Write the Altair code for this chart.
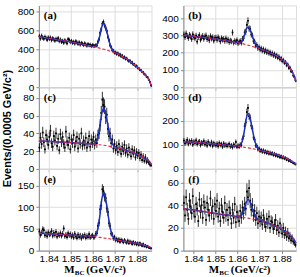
import altair as alt
import numpy as np
import pandas as pd

# M_BC histogram: 102 bins of 0.0005 GeV/c^2 starting at 1.8355
BIN_START = 1.8355
BIN_WIDTH = 0.0005
X_MIN, X_MAX = 1.8355, 1.8865
X_TICKS = [1.84, 1.85, 1.86, 1.87, 1.88]

counts_a = [535, 512, 541, 520, 509, 530, 518, 497, 523, 508,
            521, 495, 514, 503, 489, 508, 497, 516, 484, 501,
            476, 488, 467, 493, 480, 461, 505, 498, 474, 486,
            466, 478, 459, 483, 470, 455, 472, 448, 465, 457,
            443, 461, 448, 436, 454, 440, 447, 431, 442, 437,
            432, 441, 438, 479, 503, 571, 608, 668, 686, 650,
            619, 590, 528, 494, 441, 421, 388, 384, 362, 366,
            348, 357, 336, 345, 324, 333, 310, 318, 297, 303,
            284, 273, 279, 257, 262, 239, 241, 220, 225, 201,
            199, 181, 178, 160, 157, 136, 131, 110, 104, 79,
            55, 22]
counts_b = [306, 291, 312, 297, 286, 303, 295, 280, 307, 292,
            284, 299, 265, 291, 302, 276, 288, 297, 281, 294,
            300, 279, 287, 272, 296, 283, 290, 270, 285, 288,
            275, 290, 279, 266, 284, 276, 280, 268, 283, 270,
            276, 262, 271, 266, 318, 259, 268, 262, 273, 255,
            262, 268, 258, 281, 284, 318, 322, 362, 386, 341,
            338, 306, 300, 268, 266, 241, 246, 226, 233, 218,
            226, 211, 221, 206, 215, 201, 209, 196, 204, 190,
            199, 184, 193, 177, 186, 170, 178, 161, 169, 151,
            158, 141, 146, 127, 132, 111, 114, 92, 90, 68,
            58, 40]
counts_c = [24, 35, 28, 41, 30, 22, 38, 33, 27, 36,
            43, 29, 25, 37, 32, 40, 26, 34, 21, 39,
            30, 36, 28, 24, 42, 31, 27, 35, 22, 33,
            29, 38, 25, 31, 36, 23, 34, 28, 40, 26,
            32, 27, 35, 24, 30, 37, 25, 33, 29, 36,
            27, 33, 29, 38, 40, 49, 63, 78, 72, 70,
            58, 61, 45, 37, 40, 29, 33, 23, 28, 21,
            26, 19, 28, 22, 17, 25, 20, 27, 18, 23,
            16, 24, 19, 14, 22, 17, 21, 13, 19, 15,
            18, 12, 16, 10, 14, 9, 13, 8, 10, 7,
            5, 4]
counts_d = [118, 106, 112, 121, 104, 115, 109, 117, 101, 113,
            108, 119, 103, 111, 114, 99, 110, 106, 116, 102,
            109, 97, 113, 104, 100, 111, 95, 107, 102, 98,
            105, 94, 108, 99, 103, 92, 106, 97, 101, 95,
            99, 104, 93, 98, 90, 101, 96, 112, 92, 97,
            92, 101, 99, 124, 136, 178, 193, 236, 254, 219,
            212, 180, 168, 131, 122, 97, 96, 81, 85, 75,
            79, 71, 77, 69, 73, 66, 71, 63, 68, 62,
            66, 58, 63, 55, 59, 52, 56, 48, 53, 46,
            50, 43, 46, 38, 41, 33, 36, 30, 29, 24,
            23, 19]
counts_e = [44, 36, 41, 49, 47, 35, 40, 33, 42, 37,
            39, 45, 34, 41, 36, 43, 32, 38, 35, 40,
            34, 39, 51, 33, 37, 31, 40, 35, 38, 32,
            36, 30, 39, 33, 29, 37, 31, 35, 28, 34,
            32, 36, 29, 34, 31, 38, 30, 33, 35, 31,
            31, 39, 40, 57, 64, 95, 104, 141, 137, 124,
            121, 97, 89, 63, 57, 39, 37, 28, 31, 24,
            27, 22, 26, 20, 25, 23, 19, 24, 21, 18,
            23, 17, 21, 19, 15, 20, 16, 18, 14, 17,
            13, 17, 14, 11, 15, 10, 12, 8, 10, 7,
            6, 5]
counts_f = [42, 31, 47, 36, 28, 44, 39, 33, 48, 35,
            30, 41, 37, 26, 45, 34, 40, 29, 43, 38,
            27, 42, 36, 31, 46, 33, 39, 28, 41, 35,
            44, 30, 37, 26, 40, 34, 29, 42, 31, 36,
            27, 38, 33, 24, 36, 29, 41, 25, 34, 30,
            26, 35, 29, 38, 33, 41, 37, 52, 47, 55,
            44, 36, 40, 31, 35, 27, 33, 24, 30, 26,
            29, 23, 31, 25, 21, 28, 24, 30, 20, 26,
            25, 19, 23, 27, 18, 22, 16, 24, 19, 15,
            20, 14, 17, 12, 16, 11, 13, 9, 11, 8,
            7, 5]

# Fit curves sampled along M_BC: background (dashed) and total (solid)
fit_x = [1.8355, 1.838, 1.841, 1.844, 1.847, 1.850, 1.853, 1.856, 1.858, 1.859,
         1.860, 1.861, 1.862, 1.863, 1.864, 1.8648, 1.8655, 1.8665, 1.8675, 1.8685,
         1.8695, 1.8705, 1.872, 1.874, 1.876, 1.878, 1.880, 1.882, 1.883, 1.884,
         1.885, 1.8858, 1.8865]

bkg_a = [530, 522, 512, 500, 488, 475, 462, 448, 438, 433, 428, 423, 417, 411, 405, 400, 396,
         389, 381, 373, 365, 356, 340, 315, 285, 250, 212, 170, 148, 122, 92, 55, 0]
tot_a = [530, 522, 512, 500, 488, 475, 462, 448, 438, 433, 429, 430, 454, 530, 636, 672, 648,
         563, 469, 406, 374, 358, 340, 315, 285, 250, 212, 170, 148, 122, 92, 55, 0]
bkg_b = [302, 298, 294, 290, 285, 280, 274, 268, 264, 261, 259, 256, 253, 250, 247, 244, 242,
         238, 234, 230, 226, 221, 214, 204, 193, 180, 163, 140, 126, 108, 85, 62, 30]
tot_b = [302, 298, 294, 290, 285, 280, 274, 268, 264, 261, 259, 259, 267, 296, 337, 350, 340,
         306, 268, 243, 230, 222, 214, 204, 193, 180, 163, 140, 126, 108, 85, 62, 30]
bkg_c = [31.5, 31.2, 30.8, 30.4, 30.0, 29.6, 29.2, 28.7, 28.3, 28.1, 27.9, 27.7, 27.4, 27.1,
         26.8, 26.6, 26.4, 25.9, 25.4, 24.9, 24.4, 23.8, 22.9, 21.5, 20.0, 18.3, 16.5, 14.3,
         13.0, 11.4, 9.5, 7.5, 4.5]
tot_c = [31.5, 31.2, 30.8, 30.4, 30.0, 29.6, 29.2, 28.7, 28.3, 28.1, 28.0, 28.8, 33.1, 45.5,
         62.5, 68.6, 65.3, 52.8, 39.1, 30.0, 25.8, 24.1, 22.9, 21.5, 20.0, 18.3, 16.5, 14.3,
         13.0, 11.4, 9.5, 7.5, 4.5]
bkg_d = [113, 112, 110.5, 108.5, 106, 103.5, 101, 98, 96, 95.5, 94.5, 93, 91.5, 90, 88.5, 87.5,
         86.5, 84.5, 82.5, 80.5, 78.5, 76, 73, 68.5, 64, 58.5, 52, 44.5, 40, 35, 29.5, 25, 20]
tot_d = [113, 112, 110.5, 108.5, 106, 103.5, 101, 98, 96, 95.5, 95, 96.6, 110.8, 152.5, 210,
         230.5, 219, 176, 129, 97.8, 83.2, 77, 73, 68.5, 64, 58.5, 52, 44.5, 40, 35, 29.5, 25, 20]
bkg_e = [40, 39.3, 38.5, 37.7, 36.8, 35.9, 35, 34.1, 33.5, 33.1, 32.6, 32, 31.3, 30.5, 29.7,
         29.1, 28.6, 27.9, 27.1, 26.3, 25.5, 24.7, 23.5, 21.8, 20, 18.2, 16.5, 14.2, 12.8, 11.3,
         9.5, 7.8, 5.5]
tot_e = [40, 39.3, 38.5, 37.7, 36.8, 35.9, 35, 34.1, 33.5, 33.1, 32.9, 34.6, 45.3, 75.9, 118.1,
         133.1, 125, 94.5, 60.9, 38.9, 28.9, 25.4, 23.5, 21.8, 20, 18.2, 16.5, 14.2, 12.8, 11.3,
         9.5, 7.8, 5.5]
bkg_f = [37, 36.3, 35.5, 34.6, 33.7, 32.8, 31.9, 31.1, 30.6, 30.3, 30, 29.7, 29.4, 29.1, 28.8,
         28.6, 28.3, 27.9, 27.5, 27.1, 26.7, 26.2, 25.4, 24.1, 22.6, 20.9, 19, 16.6, 15.1, 13.4,
         11.3, 9.3, 6.5]
tot_f = [37, 36.3, 35.5, 34.6, 33.7, 32.8, 31.9, 31.1, 30.6, 30.3, 30, 30.1, 31.6, 36.3, 42.8,
         45.1, 43.6, 38.5, 32.9, 29.1, 27.2, 26.3, 25.4, 24.1, 22.6, 20.9, 19, 16.6, 15.1, 13.4,
         11.3, 9.3, 6.5]

panel_labels = ["(a)", "(b)", "(c)", "(d)", "(e)", "(f)"]
panel_counts = [counts_a, counts_b, counts_c, counts_d, counts_e, counts_f]
panel_bkg = [bkg_a, bkg_b, bkg_c, bkg_d, bkg_e, bkg_f]
panel_tot = [tot_a, tot_b, tot_c, tot_d, tot_e, tot_f]
y_max = [860, 475, 92, 340, 188, 72]
y_ticks = [[0, 200, 400, 600, 800], [0, 100, 200, 300, 400], [0, 20, 40, 60, 80],
           [0, 100, 200, 300], [0, 50, 100, 150], [0, 20, 40, 60]]

Y_TITLE = "Events/(0.0005 GeV/c\u00b2)"

W, H = 113, 82
SANS = "Liberation Sans"
SERIF = "Liberation Serif"
BLUE = "#1c2fc0"
RED = "#e3243b"


def panel(k):
    counts = np.array(panel_counts[k], dtype=float)
    centers = BIN_START + BIN_WIDTH * (np.arange(len(counts)) + 0.5)
    err = np.sqrt(counts)
    hist = pd.DataFrame({
        "m": centers,
        "m_lo": centers - BIN_WIDTH / 2,
        "m_hi": centers + BIN_WIDTH / 2,
        "n": counts,
        "n_lo": counts - err,
        "n_hi": counts + err,
    })
    fit = pd.DataFrame({"m": fit_x, "bkg": panel_bkg[k], "tot": panel_tot[k]})

    bottom_row = k >= 4
    xs = alt.Scale(domain=[X_MIN, X_MAX], nice=False, zero=False)
    ys = alt.Scale(domain=[0, y_max[k]], nice=False)
    x_axis = alt.Axis(values=X_TICKS, format=".2f", labels=bottom_row, title=None,
                      tickSize=3, labelPadding=0, labelOverlap=False)
    y_kw = dict(values=y_ticks[k], tickSize=3, labelPadding=2, title=None,
                labelOverlap=False)
    if k == 2:
        y_kw.update(title=Y_TITLE, titleX=-31, titleY=H / 2, titleAngle=-90,
                    titleBaseline="middle", titleAlign="center")
    y_axis = alt.Axis(**y_kw)

    def X(field):
        return alt.X(field, scale=xs, axis=x_axis)

    def Y(field):
        return alt.Y(field, scale=ys, axis=y_axis)

    base = alt.Chart(hist)
    vbars = base.mark_rule(color="black", strokeWidth=0.8).encode(
        x=X("m:Q"), y=Y("n_lo:Q"), y2="n_hi:Q")
    hbars = base.mark_rule(color="black", strokeWidth=1).encode(
        x=X("m_lo:Q"), x2="m_hi:Q", y=Y("n:Q"))
    pts = base.mark_square(color="black", size=3, opacity=1).encode(
        x=X("m:Q"), y=Y("n:Q"))

    fitc = alt.Chart(fit)
    total = fitc.mark_line(color=BLUE, strokeWidth=1.5, interpolate="monotone").encode(
        x=X("m:Q"), y=Y("tot:Q"))
    backg = fitc.mark_line(color=RED, strokeWidth=1.1, strokeDash=[3, 2],
                           interpolate="monotone").encode(x=X("m:Q"), y=Y("bkg:Q"))

    tag = alt.Chart(pd.DataFrame({"t": [panel_labels[k]]})).mark_text(
        align="left", baseline="middle", font=SERIF, fontWeight="bold", fontSize=11,
        color="black").encode(x=alt.value(5), y=alt.value(11), text="t:N")

    layers = [vbars, hbars, pts, total, backg, tag]

    if bottom_row:
        x0 = 25.5
        ty = H + 22.5
        m_txt = alt.Chart(pd.DataFrame({"t": ["M"]})).mark_text(
            align="left", baseline="alphabetic", font=SERIF, fontWeight="bold",
            fontSize=11, color="black").encode(x=alt.value(x0), y=alt.value(ty), text="t:N")
        bc_txt = alt.Chart(pd.DataFrame({"t": ["BC"]})).mark_text(
            align="left", baseline="alphabetic", font=SERIF, fontWeight="bold",
            fontSize=7, color="black").encode(x=alt.value(x0 + 10.6), y=alt.value(ty + 2),
                                               text="t:N")
        unit_txt = alt.Chart(pd.DataFrame({"t": ["(GeV/c\u00b2)"]})).mark_text(
            align="left", baseline="alphabetic", font=SERIF, fontWeight="bold",
            fontSize=11, color="black").encode(x=alt.value(x0 + 22), y=alt.value(ty),
                                                text="t:N")
        layers += [m_txt, bc_txt, unit_txt]

    return alt.layer(*layers).properties(width=W, height=H)


chart = alt.concat(
    *[panel(k) for k in range(6)],
    columns=2,
    spacing=alt.RowColnumber(row=0, column=32),
    bounds="flush",
).properties(
    padding={"left": 1, "top": 4, "right": 0, "bottom": 0}
).configure_view(
    stroke="black", strokeWidth=1, fill="white"
).configure_axis(
    grid=False, domain=False, tickColor="black", tickWidth=1, labelOverlap=False,
    labelFont=SANS, labelFontWeight="bold", labelColor="black",
    titleFont=SERIF, titleFontWeight="bold", titleFontSize=11.5, titleColor="black",
).configure_axisX(
    labelFontSize=8
).configure_axisY(
    labelFontSize=8.5
).configure(background="white")

chart.save("out.html", embed_options={"renderer": "svg", "actions": False})
